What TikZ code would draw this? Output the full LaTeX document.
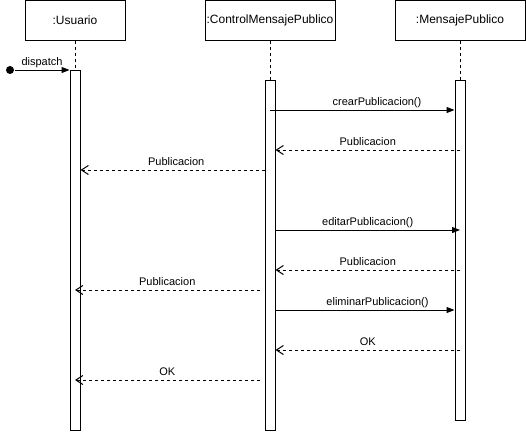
\documentclass[tikz,border=0pt]{standalone}
\usepackage{fontspec}
\setmainfont{Liberation Sans}
\usetikzlibrary{arrows.meta}

\begin{document}
\begin{tikzpicture}[x=1pt, y=-1pt, line width=1pt,
    every node/.style={font=\fontsize{11}{13}\selectfont},
    lifebox/.style={rectangle, draw, minimum height=40pt, inner sep=0pt, font=\fontsize{12}{14}\selectfont},
    actbar/.style={rectangle, draw, fill=white, minimum width=10pt, inner sep=0pt, anchor=north},
    call/.style={-{Triangle[length=8pt,width=6pt]}},
    reply/.style={dashed, -{Straight Barb[length=7pt,width=9pt]}}]
      \useasboundingbox (0,0) rectangle (526,431);
      \node (1) at (75,20) [lifebox, minimum width=100pt] {:Usuario};
      \node (2) at (270,20) [lifebox, minimum width=130pt] {:ControlMensajePublico};
      \node (3) at (460,20) [lifebox, minimum width=130pt] {:MensajePublico};
      \node (4) at (75,70) [actbar, minimum height=360pt] {};
      \node (5) at (270,80) [actbar, minimum height=350pt] {};
      \node (6) at (460,80) [actbar, minimum height=340pt] {};
      \node (7) at (10,70) [circle, fill, inner sep=0pt, minimum size=8pt] {};
      \coordinate (8) at ([xshift=-5pt]5.north west);
      \foreach \source/\dest in {1/4, 2/5, 3/6}
        \draw[dashed] (\source) -- (\dest);
      \draw[call] (7) -- (4.west |- 7) node[midway, anchor=base, yshift=5pt] {dispatch};
      \foreach \source/\dest/\y/\p/\lbl in {5/6.west/110/0.58/crearPublicacion(), 5.east/6/230/0.5/editarPublicacion(), 5.east/6.west/310/0.57/eliminarPublicacion()}
        \draw[call] (\source |- 0,\y) -- (\dest |- 0,\y) node[pos=\p, anchor=base, yshift=5pt] {\lbl};
      \foreach \source/\dest/\y/\p/\lbl in {6/5.east/150/0.5/Publicacion, 5.west/4.east/170/0.48/Publicacion, 6/5.east/270/0.5/Publicacion, 8/4/290/0.5/Publicacion, 6/5.east/350/0.5/OK, 8/4/380/0.5/OK}
        \draw[reply] (\source |- 0,\y) -- (\dest |- 0,\y) node[pos=\p, anchor=base, yshift=5pt] {\lbl};
    \end{tikzpicture}
\end{document}
